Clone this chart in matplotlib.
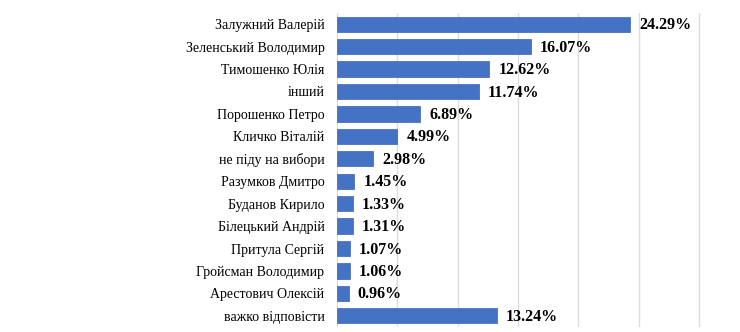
import matplotlib
matplotlib.use('Agg')
import matplotlib.pyplot as plt

names = ['Залужний Валерій', 'Зеленський Володимир', 'Тимошенко Юлія', 'інший',
         'Порошенко Петро', 'Кличко Віталій', 'не піду на вибори', 'Разумков Дмитро',
         'Буданов Кирило', 'Білецький Андрій', 'Притула Сергій', 'Гройсман Володимир',
         'Арестович Олексій', 'важко відповісти']
values = [24.29, 16.07, 12.62, 11.74, 6.89, 4.99, 2.98, 1.45, 1.33, 1.31, 1.07, 1.06, 0.96, 13.24]
grid_ticks = [0, 5, 10, 15, 20, 25, 30]

fig = plt.figure(figsize=(7.4, 3.32), dpi=100)
ax = fig.add_axes([0.4554, 0.015, 0.5446, 0.946])

pos = list(range(len(names)))
ax.barh(pos, values, height=0.68, color='#4472C4', edgecolor='#3a63ad', linewidth=0.5, zorder=3)
ax.set_ylim(len(names) - 0.5, -0.5)
ax.set_xlim(0, 33.4)

ax.set_xticks(grid_ticks)
ax.set_xticklabels([])
ax.tick_params(axis='x', length=0)
ax.grid(axis='x', color='#dcdcdc', linewidth=1.0, zorder=0)

ax.set_yticks(pos)
ax.set_yticklabels(names, fontfamily='Liberation Serif', fontsize=10)
ax.tick_params(axis='y', length=0, pad=9)

for s in ax.spines.values():
    s.set_visible(False)

for p, v in zip(pos, values):
    ax.text(v + 0.75, p + 0.05, f'{v:.2f}%', va='center', ha='left',
            fontfamily='Liberation Serif', fontweight='bold', fontsize=11.5, zorder=4)

fig.savefig('out.png', dpi=100)
